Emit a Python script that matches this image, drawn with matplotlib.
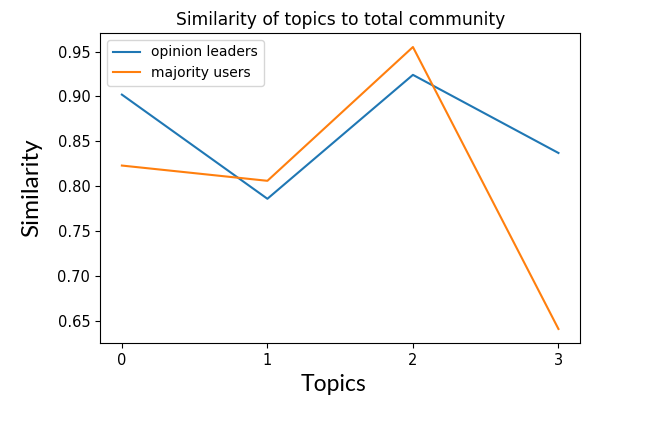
import matplotlib
matplotlib.use("Agg")
import matplotlib.pyplot as plt

# 数据
topics = [0, 1, 2, 3]
opinion_leaders = [0.902, 0.786, 0.924, 0.837]
majority_users = [0.823, 0.806, 0.955, 0.641]

fig = plt.figure(figsize=(6.67, 4.22), dpi=100)
ax = fig.add_axes([0.150, 0.187, 0.720, 0.735])

ax.plot(topics, opinion_leaders, color="#1f77b4", linewidth=1.5, label="opinion leaders")
ax.plot(topics, majority_users, color="#ff7f0e", linewidth=1.5, label="majority users")

ax.set_xticks(topics)
ax.tick_params(labelsize=10.5)
ax.set_title("Similarity of topics to total community", fontsize=12.3, pad=6)
ax.legend(loc="upper left", fontsize=10)

# 轴标签字体不同（后期添加的样式）
fig.text(0.048, 0.555, "Similarity", rotation=90, ha="center", va="center",
         fontsize=17.5, family=["Lato", "DejaVu Sans"])
fig.text(0.500, 0.090, "Topics", ha="center", va="center",
         fontsize=16.5, family=["Lato", "DejaVu Sans"])

fig.savefig("out.png", dpi=100, facecolor="white")
